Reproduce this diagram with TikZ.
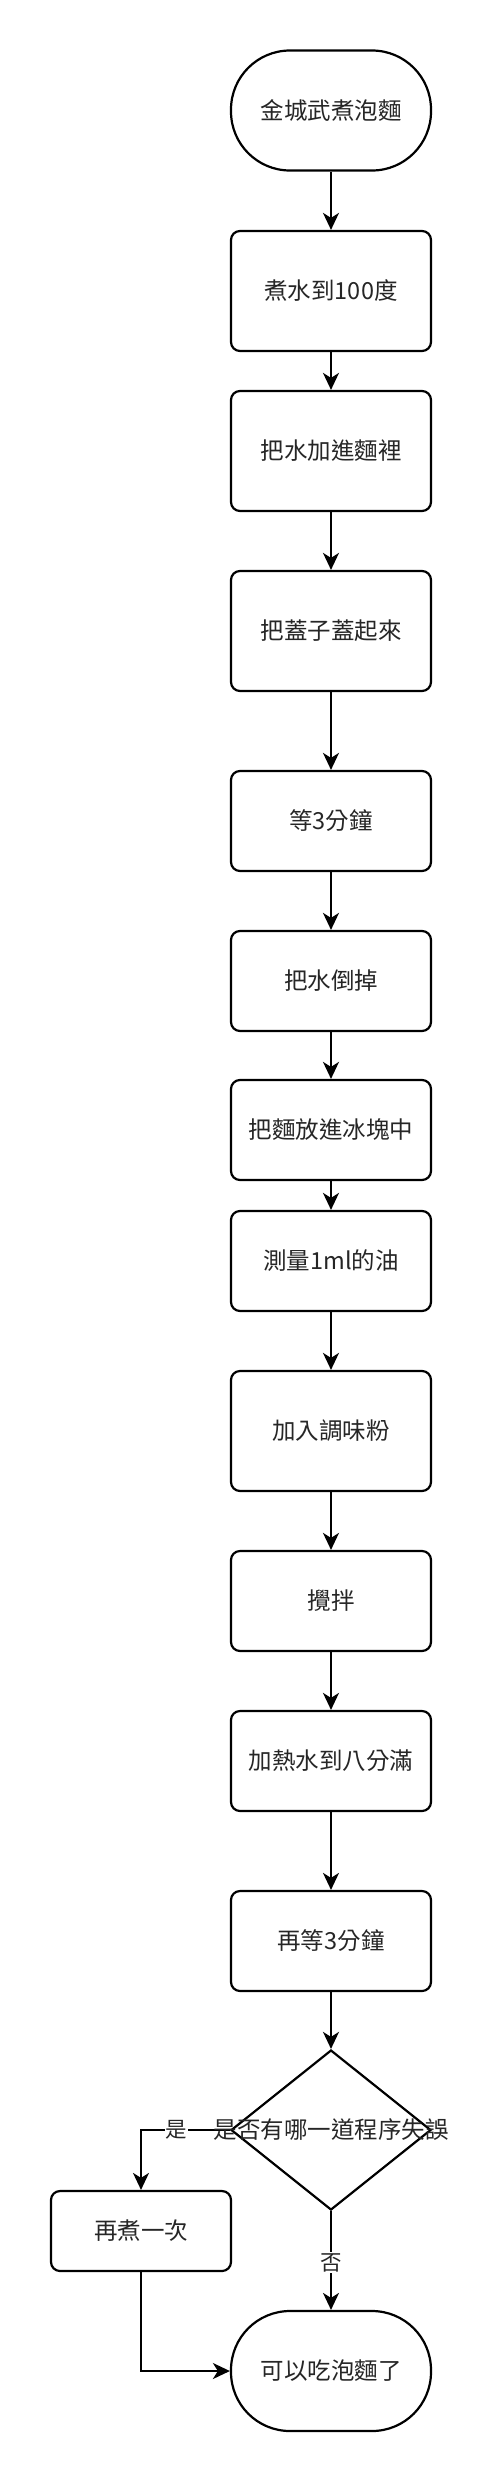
\documentclass[tikz,border=0pt]{standalone}
\usepackage{fontspec}
\setmainfont{Noto Sans CJK TC}
\usetikzlibrary{arrows.meta,shapes.geometric}
\begin{document}
\begin{tikzpicture}[x=1pt,y=-1pt,
  every node/.style={font=\fontsize{23.5}{28}\selectfont, text=black!85},
  proc/.style={draw, line width=2.2pt, rounded corners=9pt, minimum width=200pt, inner sep=0pt},
  term/.style={draw, line width=2.2pt, rounded corners=59pt, minimum width=200pt, minimum height=120pt, inner sep=0pt},
  decide/.style={draw, diamond, line width=2.2pt, minimum width=200pt, minimum height=160pt, inner sep=0pt},
  flow/.style={draw, line width=2.2pt, -{Stealth[length=17pt,width=16pt,inset=5pt]}},
  lbl/.style={fill=white, font=\fontsize{21.5}{26}\selectfont, inner sep=1pt}]
\useasboundingbox (0,0) rectangle (502,2482);

\node[term] (start) at (331,110.5) {金城武煮泡麵};
\node[proc, minimum height=120pt] (b1) at (331,291) {煮水到100度};
\node[proc, minimum height=120pt] (b2) at (331,451) {把水加進麵裡};
\node[proc, minimum height=120pt] (b3) at (331,631) {把蓋子蓋起來};
\node[proc, minimum height=100pt] (b4) at (331,821) {等3分鐘};
\node[proc, minimum height=100pt] (b5) at (331,981) {把水倒掉};
\node[proc, minimum height=100pt] (b6) at (331,1130) {把麵放進冰塊中};
\node[proc, minimum height=100pt] (b7) at (331,1261) {測量1ml的油};
\node[proc, minimum height=120pt] (b8) at (331,1431) {加入調味粉};
\node[proc, minimum height=100pt] (b9) at (331,1601) {攪拌};
\node[proc, minimum height=100pt] (b10) at (331,1761) {加熱水到八分滿};
\node[proc, minimum height=100pt] (b11) at (331,1941) {再等3分鐘};
\node[decide] (q) at (331,2130) {};
\node[proc, minimum width=180pt, minimum height=80pt] (redo) at (141,2231) {再煮一次};
\node[term] (end) at (331,2371) {可以吃泡麵了};

\draw[flow] (start) -- (b1);
\draw[flow] (b1) -- (b2);
\draw[flow] (b2) -- (b3);
\draw[flow] (b3) -- (b4);
\draw[flow] (b4) -- (b5);
\draw[flow] (b5) -- (b6);
\draw[flow] (b6) -- (b7);
\draw[flow] (b7) -- (b8);
\draw[flow] (b8) -- (b9);
\draw[flow] (b9) -- (b10);
\draw[flow] (b10) -- (b11);
\draw[flow] (b11) -- (q);
\draw[flow] (q.west) -| node[lbl, pos=0.3] {是} (redo.north);
\draw[flow] (q.south) -- node[lbl, pos=0.52] {否} (end.north);
\draw[flow] (redo.south) |- (end.west);
\node (qt) at (q) {是否有哪一道程序失誤};
\end{tikzpicture}
\end{document}
